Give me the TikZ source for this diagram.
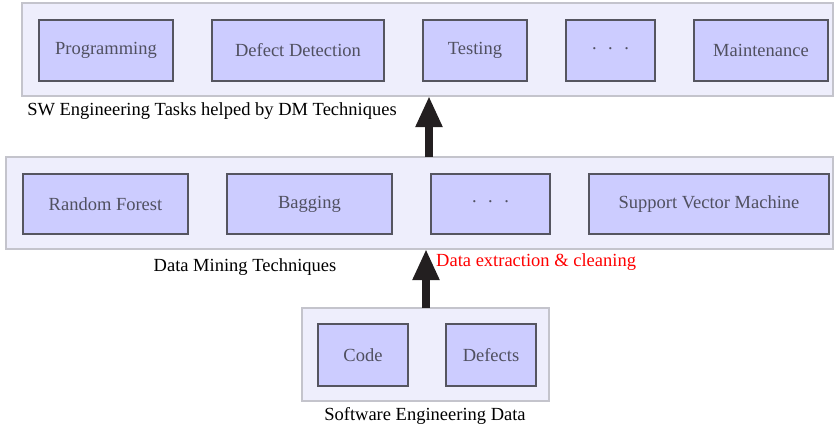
\documentclass[tikz,border=0pt]{standalone}
\usepackage{fontspec}
\setmainfont{Liberation Serif}
\usetikzlibrary{arrows.meta}
\definecolor{outerfill}{HTML}{EEEEFC}
\definecolor{outerdraw}{HTML}{C4C4CC}
\definecolor{innerfill}{HTML}{CCCCFF}
\definecolor{innerdraw}{HTML}{555560}
\definecolor{innertext}{HTML}{505060}
\definecolor{arrowcol}{HTML}{231F20}
\newcommand{\mydots}{\raisebox{0.22em}{.\hspace{0.62em}.\hspace{0.62em}.}}
\begin{document}
\begin{tikzpicture}[x=1pt,y=-1pt,
  font=\fontsize{18.5}{22}\selectfont,
  outerbox/.style={draw=outerdraw,fill=outerfill,line width=1.2pt},
  innerbox/.style={draw=innerdraw,fill=innerfill,line width=2pt,text=innertext,anchor=north west,inner sep=0pt},
  layerlabel/.style={text=black,inner sep=0pt},
  bigarrow/.style={draw=arrowcol,line width=8pt,-{Triangle[width=25pt,length=31pt]}}
]
\useasboundingbox (0,0) rectangle (834,428);
% outer boxes
\path[outerbox] (22,3) rectangle (833,96);
\path[outerbox] (6,157) rectangle (833,249);
\path[outerbox] (302,308) rectangle (549,401);
\coordinate (topbot) at (429,96);
\coordinate (midtop) at (429,157);
\coordinate (midbot) at (426,249);
\coordinate (lowtop) at (426,308);
% top inner
\node[innerbox,minimum width=134pt,minimum height=61pt] (prog) at (38,19) {Programming};
\node[innerbox,minimum width=172pt,minimum height=61pt] (defdet) at (211,19) {Defect Detection};
\node[innerbox,minimum width=104pt,minimum height=61pt] (test) at (422,19) {Testing};
\node[innerbox,minimum width=89pt,minimum height=61pt] (tdots) at (565,19) {\mydots};
\node[innerbox,minimum width=134pt,minimum height=61pt] (maint) at (693,19) {Maintenance};
\node[layerlabel,anchor=base] (toplabel) at (212,115) {SW Engineering Tasks helped by DM Techniques};
% middle inner
\node[innerbox,minimum width=165pt,minimum height=60pt] (rf) at (22,173) {Random Forest};
\node[innerbox,minimum width=165pt,minimum height=60pt] (bag) at (226,173) {Bagging};
\node[innerbox,minimum width=119pt,minimum height=60pt] (mdots) at (430,173) {\mydots};
\node[innerbox,minimum width=240pt,minimum height=60pt] (svm) at (588,173) {Support Vector Machine};
\node[layerlabel,anchor=base] (midlabel) at (245,271) {Data Mining Techniques};
\node[layerlabel,anchor=base west,text=red] (extract) at (436,266) {Data extraction \& cleaning};
% bottom inner
\node[innerbox,minimum width=90pt,minimum height=62pt] (code) at (317,323) {Code};
\node[innerbox,minimum width=90pt,minimum height=62pt] (defects) at (445,323) {Defects};
\node[layerlabel,anchor=base] (lowlabel) at (425,420) {Software Engineering Data};
% arrows
\draw[bigarrow] (lowtop) -- (midbot);
\draw[bigarrow] (midtop) -- (topbot);
\end{tikzpicture}
\end{document}
